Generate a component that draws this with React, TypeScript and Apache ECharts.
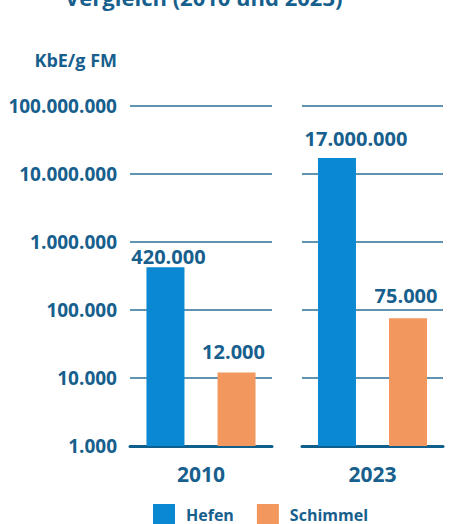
import React, { useEffect, useRef } from "react";
import * as echarts from "echarts";

const categories = ["2010", "2023"];
const seriesNames = ["Hefen", "Schimmel"];
const hefen = [420000, 17000000];
const schimmel = [12000, 75000];
const yTickValues = [1000, 10000, 100000, 1000000, 10000000, 100000000];

const TEXT = "#17608d";
const BLUE = "#0a88d1";
const ORANGE = "#f2975e";
const GRIDLINE = "#2a6f98";
const FONT = "Open Sans";

const fmt = (v: number) =>
  String(Math.round(v)).replace(/\B(?=(\d{3})+(?!\d))/g, ".");

export default function App() {
  const ref = useRef<HTMLDivElement>(null);
  useEffect(() => {
    if (!ref.current) return;
    const chart = echarts.init(ref.current, null, { renderer: "svg" });

    // per-label fine placement (style only)
    const labelTweaks: Record<string, { distance: number; offset: [number, number] }> = {
      "Hefen-0": { distance: 1, offset: [3, 0] },
      "Schimmel-0": { distance: 11, offset: [-3, 0] },
      "Hefen-1": { distance: 9, offset: [19, 0] },
      "Schimmel-1": { distance: 13, offset: [-2, 0] },
    };

    const grids = [
      { left: 130, right: 180, top: 105.5, bottom: 78 },
      { left: 302, right: 9, top: 105.5, bottom: 78 },
    ];

    const xAxes = categories.map((c, i) => ({
      type: "category",
      gridIndex: i,
      data: [c],
      axisTick: { show: false },
      axisLine: { show: true, lineStyle: { color: "#0f5f8c", width: 3 } },
      axisLabel: {
        color: TEXT,
        fontFamily: FONT,
        fontWeight: "bold",
        fontSize: 21,
        margin: 17,
      },
    }));

    const yAxes = categories.map((_, i) => ({
      type: "log",
      logBase: 10,
      gridIndex: i,
      min: yTickValues[0],
      max: yTickValues[yTickValues.length - 1],
      interval: 1,
      name: i === 0 ? "KbE/g FM" : "",
      nameLocation: "end",
      nameGap: 37,
      nameTextStyle: {
        color: TEXT,
        fontFamily: FONT,
        fontWeight: "bold",
        fontSize: 18,
        align: "right",
        padding: [0, 13, 0, 0],
      },
      axisLine: { show: false },
      axisTick: { show: false },
      splitLine: { show: true, lineStyle: { color: GRIDLINE, width: 1.5 } },
      axisLabel: {
        show: i === 0,
        color: TEXT,
        fontFamily: FONT,
        fontWeight: "bold",
        fontSize: 19,
        margin: 13,
        formatter: (v: number) => fmt(v),
      },
    }));

    const valuesByName: Record<string, number[]> = {
      Hefen: hefen,
      Schimmel: schimmel,
    };
    const colors: Record<string, string> = { Hefen: BLUE, Schimmel: ORANGE };

    const series: any[] = [];
    categories.forEach((_, ci) => {
      seriesNames.forEach((name) => {
        const t = labelTweaks[`${name}-${ci}`];
        series.push({
          type: "bar",
          name,
          xAxisIndex: ci,
          yAxisIndex: ci,
          barWidth: 38,
          barGap: "87%",
          itemStyle: { color: colors[name] },
          data: [valuesByName[name][ci]],
          label: {
            show: true,
            position: "top",
            distance: t.distance,
            offset: t.offset,
            color: TEXT,
            fontFamily: FONT,
            fontWeight: "bold",
            fontSize: 20,
            formatter: (p: any) => fmt(p.value),
          },
        });
      });
    });

    chart.setOption({
      animation: false,
      title: {
        text: "Vergleich (2010 und 2023)",
        left: 65,
        top: -14,
        padding: 0,
        textStyle: {
          color: TEXT,
          fontFamily: FONT,
          fontWeight: "bold",
          fontSize: 22,
        },
      },
      legend: {
        data: seriesNames,
        left: 153,
        top: 504,
        padding: 0,
        itemWidth: 22,
        itemHeight: 22,
        itemGap: 23,
        icon: "rect",
        textStyle: {
          color: TEXT,
          fontFamily: FONT,
          fontWeight: "bold",
          fontSize: 16,
          lineHeight: 16,
          padding: [0, 0, 0, 6],
        },
      },
      grid: grids,
      xAxis: xAxes,
      yAxis: yAxes,
      series,
    });
    return () => chart.dispose();
  }, []);
  return (
    <div
      ref={ref}
      style={{ position: "absolute", left: 0, top: 0, width: 452, height: 524 }}
    />
  );
}
